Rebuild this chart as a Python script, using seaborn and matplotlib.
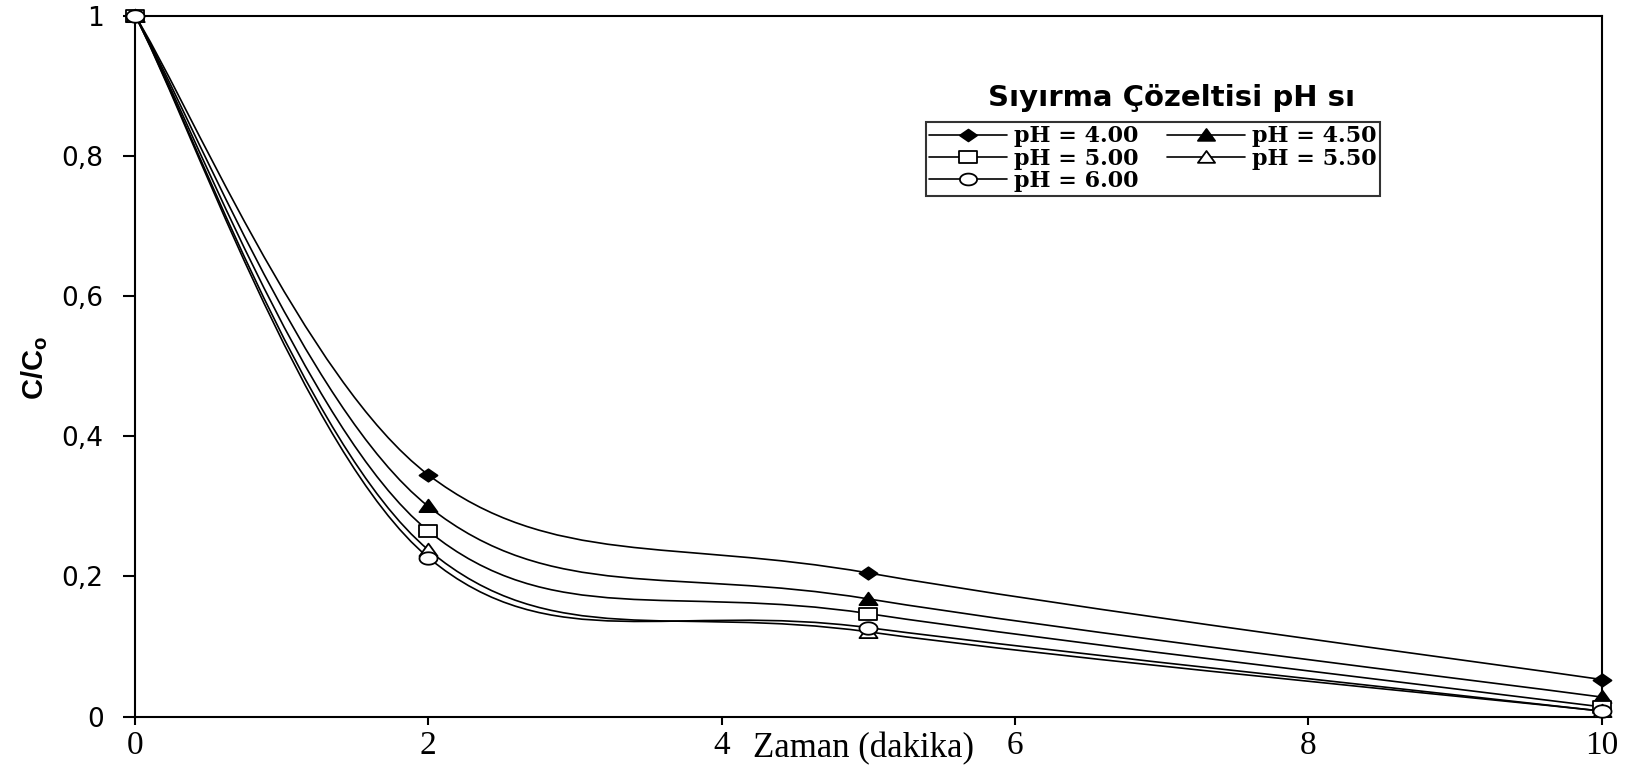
import numpy as np
import pandas as pd
import matplotlib
matplotlib.use("Agg")
import matplotlib.pyplot as plt
from matplotlib.path import Path
from matplotlib.patches import PathPatch
from matplotlib.lines import Line2D
import seaborn as sns

# ---------------- data ----------------
time_min = [0, 2, 5, 10]
ph_400 = [1.0, 0.345, 0.205, 0.053]
ph_450 = [1.0, 0.300, 0.168, 0.028]
ph_500 = [1.0, 0.265, 0.147, 0.014]
ph_550 = [1.0, 0.238, 0.121, 0.008]
ph_600 = [1.0, 0.227, 0.127, 0.008]
series_labels = ["pH = 4.00", "pH = 4.50", "pH = 5.00", "pH = 5.50", "pH = 6.00"]
x_ticks = [0, 2, 4, 6, 8, 10]
y_ticks = [0, 0.2, 0.4, 0.6, 0.8, 1.0]
y_tick_labels = ["0", "0,2", "0,4", "0,6", "0,8", "1"]
legend_title = "Sıyırma Çözeltisi pH sı"
x_label = "Zaman (dakika)"

# ---------------- style ----------------
sns.set_style("white")
plt.rcParams["font.family"] = ["DejaVu Sans"]
plt.rcParams["text.color"] = "black"
plt.rcParams["axes.labelcolor"] = "black"
plt.rcParams["xtick.color"] = "black"
plt.rcParams["ytick.color"] = "black"
plt.rcParams["mathtext.fontset"] = "custom"
plt.rcParams["mathtext.bf"] = "Liberation Sans:bold"
plt.rcParams["mathtext.rm"] = "Liberation Sans"

# horizontally stretched marker shapes (as in the reference)
W = 1.45
m_diamond = Path([(-W, 0), (0, 1), (W, 0), (0, -1), (-W, 0)], closed=True)
m_square = Path([(-W, -1), (W, -1), (W, 1), (-W, 1), (-W, -1)], closed=True)
m_tri = Path([(-W, -0.9), (W, -0.9), (0, 1.1), (-W, -0.9)], closed=True)
_t = np.linspace(0, 2 * np.pi, 40)
m_circle = Path(np.column_stack([W * np.cos(_t), np.sin(_t)]), closed=True)

styles = [
    (ph_400, m_diamond, "black"),
    (ph_450, m_tri, "black"),
    (ph_500, m_square, "white"),
    (ph_550, m_tri, "white"),
    (ph_600, m_circle, "white"),
]

fig = plt.figure(figsize=(16.26, 7.79), dpi=100)
ax = fig.add_axes([0.083, 0.080, 0.902, 0.900])

def smooth_path(xs, ys):
    pts = np.column_stack([xs, ys]).astype(float)
    n = len(pts)
    verts = [pts[0]]
    codes = [Path.MOVETO]
    for i in range(n - 1):
        p0 = pts[max(i - 1, 0)]
        p1 = pts[i]
        p2 = pts[i + 1]
        p3 = pts[min(i + 2, n - 1)]
        c1 = p1 + (p2 - p0) / 6.0
        c2 = p2 - (p3 - p1) / 6.0
        verts += [c1, c2, p2]
        codes += [Path.CURVE4] * 3
    return Path(verts, codes)

MS = 13
handles = []
for (vals, mk, fc), lab in zip(styles, series_labels):
    patch = PathPatch(smooth_path(time_min, vals), facecolor="none",
                      edgecolor="black", lw=1.2, zorder=2)
    ax.add_patch(patch)
    df = pd.DataFrame({"t": time_min, "c": vals})
    sns.lineplot(data=df, x="t", y="c", ax=ax, color="black",
                 linestyle="none", marker=mk, markersize=MS,
                 markerfacecolor=fc, markeredgecolor="black",
                 markeredgewidth=1.3, clip_on=False, zorder=3)
    handles.append(Line2D([0], [0], color="black", lw=1.2, marker=mk,
                          markersize=MS * 0.95, markerfacecolor=fc,
                          markeredgecolor="black", markeredgewidth=1.3))

ax.set_xlim(0, 10)
ax.set_ylim(0, 1)
ax.set_xticks(x_ticks)
ax.set_xticklabels([str(v) for v in x_ticks], fontfamily="Liberation Serif",
                   fontsize=24)
ax.set_yticks(y_ticks)
ax.set_yticklabels(y_tick_labels, fontfamily="DejaVu Sans", fontsize=19)
ax.tick_params(axis="x", direction="out", length=6, width=1.5, pad=4,
               bottom=True, colors="black")
ax.tick_params(axis="y", direction="out", length=8.5, width=1.5, pad=14,
               left=True, colors="black")
for sp in ax.spines.values():
    sp.set_visible(True)
    sp.set_color("black")
    sp.set_linewidth(1.5)

ax.set_xlabel(x_label, fontfamily="Liberation Serif", fontsize=25,
              color="black")
ax.xaxis.set_label_coords(0.4966, -0.022)
ax.set_ylabel(r"$\mathbf{C/C_o}$", fontsize=21, color="black")
ax.yaxis.set_label_coords(-0.058, 0.497)

# legend (order gives columns: 4.00/5.00/6.00 | 4.50/5.50)
order = [0, 2, 4, 1, 3]
leg = ax.legend([handles[i] for i in order], [series_labels[i] for i in order],
                ncol=2, loc="upper left", bbox_to_anchor=(926 / 1626, 1 - 122 / 779),
                bbox_transform=fig.transFigure, borderaxespad=0,
                prop={"family": "DejaVu Serif", "weight": "bold", "size": 16},
                handlelength=3.5, handletextpad=0.3, columnspacing=1.3,
                labelspacing=0.02, borderpad=0.15, frameon=True, fancybox=False)
leg.get_frame().set_edgecolor("black")
leg.get_frame().set_linewidth(1.5)
fig.text(1172 / 1626, 1 - 98 / 779, legend_title, ha="center", va="center",
         fontfamily="DejaVu Sans", fontweight="bold", fontsize=21)

fig.savefig("out.png", dpi=100, facecolor="white")
